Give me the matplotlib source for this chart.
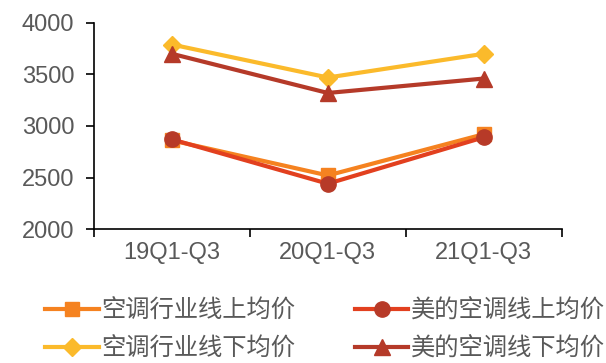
import numpy as np
import matplotlib
matplotlib.use("Agg")
import matplotlib.pyplot as plt

plt.rcParams['font.family'] = ['Liberation Sans', 'Noto Sans CJK SC', 'DejaVu Sans']

categories = ['19Q1-Q3', '20Q1-Q3', '21Q1-Q3']
ind_online = [2860, 2520, 2920]
midea_online = [2870, 2440, 2890]
ind_offline = [3790, 3470, 3700]
midea_offline = [3700, 3320, 3460]

fig = plt.figure(figsize=(6.06, 3.63), dpi=100)
ax = fig.add_axes([0.155, 0.369, 0.772, 0.568])

x = np.arange(len(categories))
ax.plot(x, ind_online, color='#F58220', lw=3, marker='s', ms=10, label='空调行业线上均价')
ax.plot(x, midea_online, color='#E2401F', lw=3, marker='o', ms=11,
        mfc='#B73A28', mec='#B73A28', label='美的空调线上均价')
ax.plot(x, ind_offline, color='#FBBA2B', lw=3, marker='D', ms=9, label='空调行业线下均价')
ax.plot(x, midea_offline, color='#B53A29', lw=3, marker='^', ms=11, label='美的空调线下均价')

ax.set_xlim(-0.5, 2.5)
ax.set_ylim(2000, 4000)
ax.set_yticks([2000, 2500, 3000, 3500, 4000])
ax.set_xticks(x)
ax.set_xticklabels(categories)
ax.set_xticks([-0.5, 0.5, 1.5, 2.5], minor=True)
ax.tick_params(axis='x', which='major', length=0, pad=9, labelsize=17, labelcolor='#595959')
ax.tick_params(axis='x', which='minor', length=6, width=1.2, direction='out')
ax.tick_params(axis='y', length=6, width=1.2, labelsize=17, labelcolor='#595959', pad=8)
for s in ['top', 'right']:
    ax.spines[s].set_visible(False)
for s in ['left', 'bottom']:
    ax.spines[s].set_linewidth(1.2)

h, l = ax.get_legend_handles_labels()
order = [0, 2, 1, 3]
fig.legend([h[i] for i in order], [l[i] for i in order], ncol=2, frameon=False,
           loc='lower left', bbox_to_anchor=(0.047, -0.044),
           prop={'family': ['Noto Sans CJK SC', 'DejaVu Sans'], 'size': 17.5},
           handlelength=2.2, handletextpad=0.1, columnspacing=2.45, labelspacing=0.5,
           borderpad=0.2, labelcolor='#595959')

fig.savefig('out.png', dpi=100)
